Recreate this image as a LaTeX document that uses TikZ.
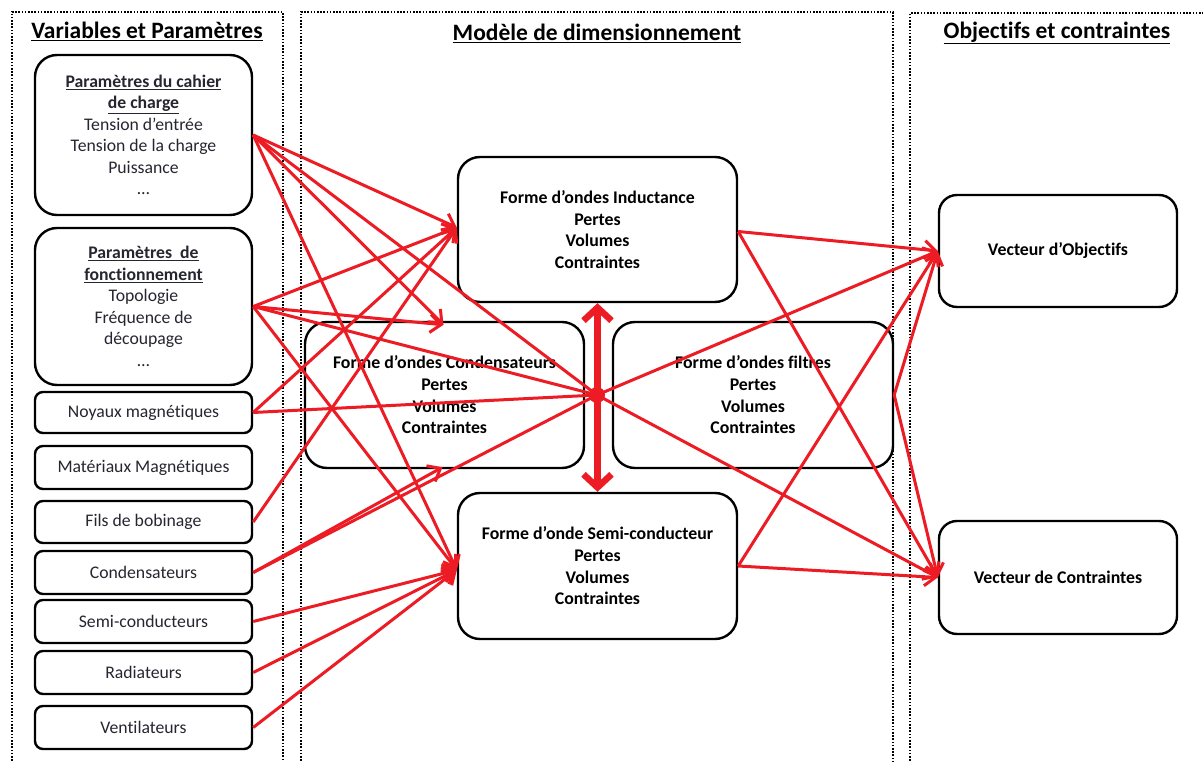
\documentclass[tikz,border=0pt]{standalone}
\usepackage{fontspec}
\setmainfont[Ligatures=NoCommon]{Carlito}
\usetikzlibrary{arrows.meta}
\definecolor{arr}{RGB}{237,28,36}
\definecolor{txt}{RGB}{38,38,48}
\begin{document}
\begin{tikzpicture}[x=1pt,y=-1pt,
  panel/.style={draw, line width=1.6pt, dash pattern=on 1.6pt off 1.6pt},
  ttl/.style={font=\fontsize{23.5}{26}\selectfont\bfseries, inner sep=0pt},
  lbig/.style={draw, line width=2.4pt, rounded corners=22pt, align=center, text=txt,
    font=\fontsize{17.7}{21.5}\selectfont, inner sep=0pt, minimum width=217pt},
  lsmall/.style={draw, line width=2.4pt, rounded corners=8pt, align=center, text=txt,
    font=\fontsize{17.7}{20}\selectfont, inner sep=0pt, minimum width=217pt},
  mbox/.style={draw, line width=2.4pt, rounded corners=22pt, align=center,
    font=\fontsize{17.8}{21.7}\selectfont\bfseries, inner sep=0pt, minimum width=279pt, minimum height=146pt},
  rbox/.style={draw, line width=2.4pt, rounded corners=18pt, align=center,
    font=\fontsize{17.8}{20}\selectfont\bfseries, inner sep=0pt, minimum width=238pt},
  link/.style={draw=arr, line width=3pt, -{Straight Barb[length=11pt,width=18pt]}},
  plain/.style={draw=arr, line width=3pt},
  dbl/.style={draw=arr, line width=6.5pt, {Straight Barb[length=13pt,width=28pt]}-{Straight Barb[length=13pt,width=28pt]}}
]
\useasboundingbox (0,0) rectangle (1203,762);
\clip (0,0) rectangle (1203,762);
\fill[white] (0,0) rectangle (1203,762);

% panels
\draw[panel] (12,780) -- (12,12) -- (283,12) -- (283,780);
\draw[panel] (301,780) -- (301,12) -- (893,12) -- (893,780);
\draw[panel] (910,780) -- (910,13) -- (1215,13);

% titles
\node[ttl] (t1) at (147,31) {\underline{Variables et Paramètres}};
\node[ttl] (t2) at (597,33) {\underline{Modèle de dimensionnement}};
\node[ttl] (t3) at (1057,33) {\underline{Objectifs et contraintes}};

% left boxes
\node[lbig, minimum height=160pt] (p1) at (143.5,135) {\textbf{\underline{Paramètres du cahier}}\\\textbf{\underline{de charge}}\\Tension d’entrée\\Tension de la charge\\Puissance\\…};
\node[lbig, minimum height=157pt] (p2) at (143.5,306.5) {\textbf{\underline{Paramètres\ \ de}}\\\textbf{\underline{fonctionnement}}\\Topologie\\Fréquence de\\découpage\\…};
\node[lsmall, minimum height=41pt] (noy) at (143.5,412.5) {Noyaux magnétiques};
\node[lsmall, minimum height=43pt] (mat) at (143.5,467.5) {Matériaux Magnétiques};
\node[lsmall, minimum height=42pt] (fils) at (143.5,522) {Fils de bobinage};
\node[lsmall, minimum height=43pt] (cap) at (143.5,572.5) {Condensateurs};
\node[lsmall, minimum height=43pt] (sc) at (143.5,621.5) {Semi-conducteurs};
\node[lsmall, minimum height=43pt] (rad) at (143.5,672.5) {Radiateurs};
\node[lsmall, minimum height=43pt] (vent) at (143.5,727.5) {Ventilateurs};

% middle boxes
\node[mbox, minimum height=145pt] (ind) at (597.5,229.5) {Forme d’ondes Inductance\\Pertes\\Volumes\\Contraintes};
\node[mbox] (cnd) at (444.5,395) {Forme d’ondes Condensateurs\\Pertes\\Volumes\\Contraintes};
\node[mbox, minimum width=280pt] (filt) at (753,395) {Forme d’ondes filtres\\Pertes\\Volumes\\Contraintes};
\node[mbox] (semi) at (597.5,566) {Forme d’onde Semi-conducteur\\Pertes\\Volumes\\Contraintes};

% right boxes
\node[rbox, minimum height=112pt] (obj) at (1058,251) {Vecteur d’Objectifs};
\node[rbox, minimum height=113pt] (con) at (1058,577.5) {Vecteur de Contraintes};

% hub
\coordinate (hub) at (597,395);

% inputs
\draw[link] (p1.east) -- ([yshift=2pt]ind.west);
\draw[link] (p1.east) -- ([xshift=-1pt,yshift=-4pt]cnd.north);
\draw[plain] (p1.east) -- (hub);
\draw[link] (p1.east) -- ([yshift=-4pt]semi.west);
\draw[link] (p2.east) -- ([yshift=2pt]ind.west);
\draw[link] (p2.east) -- ([xshift=-1pt,yshift=-4pt]cnd.north);
\draw[plain] (p2.east) -- (hub);
\draw[link] (p2.east) -- ([yshift=-4pt]semi.west);
\draw[link] (noy.east) -- ([yshift=2pt]ind.west);
\draw[plain] (noy.east) -- (hub);
\draw[link] (fils.east) -- ([yshift=2pt]ind.west);
\draw[link] (cap.east) -- ([xshift=-2pt,yshift=2pt]cnd.south);
\draw[plain] (cap.east) -- (hub);
\draw[link] (sc.east) -- ([yshift=-4pt]semi.west);
\draw[link] (rad.east) -- ([yshift=-4pt]semi.west);
\draw[link] (vent.east) -- ([yshift=-4pt]semi.west);

% double arrow
\draw[dbl] (ind.south) -- (semi.north);
\node[circle, fill=arr, minimum size=16pt, inner sep=0pt] (hubdot) at (hub) {};

% outputs
\draw[link] ([yshift=-2pt]ind.east) -- (obj.west);
\draw[link] ([yshift=-2pt]ind.east) -- (con.west);
\draw[link] (hub) -- (obj.west);
\draw[link] (hub) -- (con.west);
\draw[link] (filt.east) -- (obj.west);
\draw[link] (filt.east) -- (con.west);
\draw[link] (semi.east) -- (obj.west);
\draw[link] (semi.east) -- (con.west);
\end{tikzpicture}
\end{document}
